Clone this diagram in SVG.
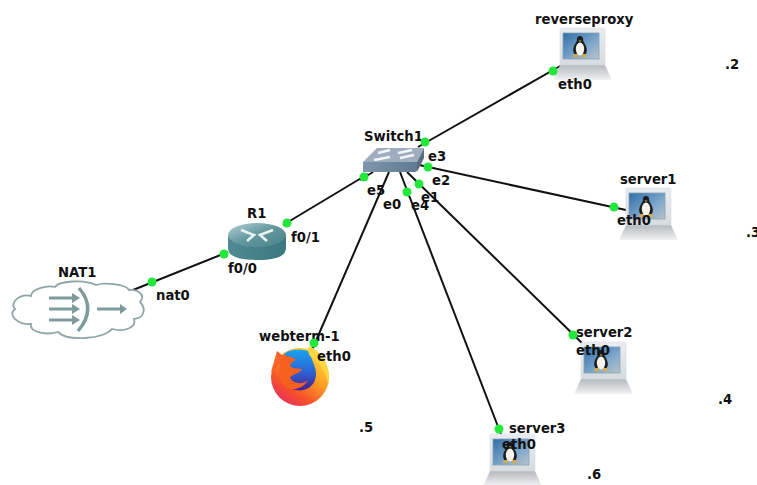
<svg xmlns="http://www.w3.org/2000/svg" width="757" height="485" viewBox="0 0 757 485">
<style>
text{font-family:"DejaVu Sans","Liberation Sans",sans-serif;font-weight:bold;font-size:13.2px;fill:#111}
.l{stroke:#111;stroke-width:2;fill:none}
.d{fill:#22e83a}
.cl{fill:#fff;stroke:#8fa6a8;stroke-width:1.8}
.ar{stroke:#7d9a9d;stroke-width:3.2;fill:none}
.ah{fill:#7d9a9d}
</style>
<defs>
<linearGradient id="scr" x1="0" y1="0" x2="1" y2="1"><stop offset="0" stop-color="#2f6ea8"/><stop offset=".6" stop-color="#7fa8cc"/><stop offset="1" stop-color="#b9c4cc"/></linearGradient>
<linearGradient id="lid" x1="0" y1="0" x2="0" y2="1"><stop offset="0" stop-color="#e9edf1"/><stop offset="1" stop-color="#d6dbe0"/></linearGradient>
<linearGradient id="base" x1="0" y1="0" x2="0" y2="1"><stop offset="0" stop-color="#b4b9bd"/><stop offset="1" stop-color="#f0f2f3"/></linearGradient>
<linearGradient id="rt" x1="0" y1="0" x2="1" y2="0"><stop offset="0" stop-color="#4f8a92"/><stop offset="1" stop-color="#3c7880"/></linearGradient>
<linearGradient id="rtop" x1="0" y1="0" x2="1" y2="1"><stop offset="0" stop-color="#b6d2d4"/><stop offset=".5" stop-color="#62979e"/><stop offset="1" stop-color="#4a8188"/></linearGradient>
<linearGradient id="sw" x1="0" y1="0" x2="1" y2="0"><stop offset="0" stop-color="#7e97ad"/><stop offset="1" stop-color="#5f7a92"/></linearGradient>
<linearGradient id="ffo" x1=".85" y1=".05" x2=".2" y2=".95"><stop offset="0" stop-color="#ffdc3c"/><stop offset=".4" stop-color="#ffa224"/><stop offset=".75" stop-color="#f6502a"/><stop offset="1" stop-color="#e8305a"/></linearGradient>
<linearGradient id="ffb" x1=".5" y1="0" x2=".5" y2="1"><stop offset="0" stop-color="#18a4f0"/><stop offset=".55" stop-color="#2c62d6"/><stop offset="1" stop-color="#4a1f8e"/></linearGradient>
<g id="laptop">
<path d="M0 37H45L51 50Q52 52 49 52H-4Q-7 52-6 50Z" fill="url(#base)"/>
<path d="M2 0H43Q45 0 45 2V37H0V2Q0 0 2 0Z" fill="url(#lid)" stroke="#d8dce0" stroke-width=".6"/>
<rect x="3" y="5" width="36" height="26" fill="url(#scr)" stroke="#8aa0b2" stroke-width=".8"/>
<path d="M20 8c-2.400 0-3.300 2-3.100 4 .1 2-3.400 5-3.700 9.500-.1 2 .4 3.500 1.300 4.500h11c.9-1 1.400-2.500 1.300-4.500-.3-4.500-3.800-7.500-3.700-9.500.2-2-.7-4-3.100-4z" fill="#1a1d22"/>
<ellipse cx="20" cy="21" rx="4.200" ry="6.500" fill="#f6f3ea"/>
<path d="M12 28.500l4.500-3 2 3.500zM28 28.500l-4.500-3-2 3.500z" fill="#eda92a"/>
<path d="M18.500 12.500h3l-1.500 1.500z" fill="#eda92a"/>
</g>
</defs>
<g id="connectors">
<path class="l" d="M133 290L228 252"/>
<path class="l" d="M283 225L368 174"/>
<path class="l" d="M418 147L562 65"/>
<path class="l" d="M418 164.800L626 210"/>
<path class="l" d="M407 172L582 343"/>
<path class="l" d="M400 172L502 437"/>
<path class="l" d="M389 172L312 350"/>
<path class="l" d="M373 172L360 180"/>
</g>
<g id="NAT1">
<path class="cl" d="M55 287C58 281 84 279 96 285C103 282 126 284 129 290C138 289 146 295 140 302C146 308 145 318 134 319C137 328 124 332 112 329C103 339 68 342 58 332C44 336 29 331 31 324C18 325 7 315 15 309C9 303 20 293 31 296C31 289 47 285 55 287Z"/>
<g><path class="ar" d="M49 298H73M49 309H73M49 320H73M97 309H121"/>
<path class="ah" d="M72 293L80 298L72 303ZM72 304L80 309L72 314ZM72 315L80 320L72 325ZM120 304L127 309L120 314Z"/>
<path d="M79 288Q97 309 78 331" fill="none" stroke="#7d9a9d" stroke-width="3.400"/></g>
<text x="58" y="277">NAT1</text>
<text x="156" y="300">nat0</text>
</g>
<g id="R1">
<path d="M228 236V248Q228 260 257 260Q286 260 286 248V236Z" fill="url(#rt)"/>
<ellipse cx="257" cy="235" rx="29" ry="12" fill="url(#rtop)"/>
<path d="M241 230L254 235L247 241M273 230L260 235L267 241" fill="none" stroke="#e9f2f2" stroke-width="2.600"/>
<text x="247" y="218">R1</text>
<text x="291" y="242">f0/1</text>
<text x="228" y="273">f0/0</text>
</g>
<g id="Switch1">
<path d="M363 162H417V170Q417 172 415 172H363Z" fill="url(#sw)"/>
<path d="M363 162L377 148H424L417 162Z" fill="#9fadbe"/>
<path d="M417 162L424 148V158L417 172Z" fill="#566d82"/>
<path d="M378 153L390 150M412 150L398 153M400 158L414 155M374 160L390 157" stroke="#f2f6f8" stroke-width="2.600" fill="none"/>
<text x="364" y="141">Switch1</text>
<text x="428" y="161">e3</text>
<text x="432" y="185">e2</text>
<text x="421" y="202">e1</text>
<text x="411" y="210">e4</text>
<text x="383" y="209">e0</text>
<text x="367" y="195">e5</text>
</g>
<g id="reverseproxy">
<use href="#laptop" x="560" y="28"/>
<text x="535" y="24">reverseproxy</text>
<text x="558" y="89">eth0</text>
</g>
<g id="server1">
<use href="#laptop" x="626" y="188"/>
<text x="620" y="184">server1</text>
<text x="617" y="225">eth0</text>
</g>
<g id="server2">
<use href="#laptop" x="581" y="342"/>
<text x="576" y="337">server2</text>
<text x="576" y="355">eth0</text>
</g>
<g id="server3">
<use href="#laptop" x="490" y="434"/>
<text x="509" y="433">server3</text>
<text x="502" y="449">eth0</text>
</g>
<g id="webterm-1">
<circle cx="300" cy="377" r="29" fill="url(#ffo)"/>
<path d="M277 351L271 372L286 358Z" fill="#f9642a"/>
<path d="M284 354C292 348 304 349 310 352C311 360 316 366 316 374C316 386 306 392 296 390C286 389 281 381 283 374Z" fill="url(#ffb)"/>
<path d="M284 354C287 357 292 356 296 360C292 362 289 364 291 367C295 370 300 367 302 370C298 374 292 374 290 378C294 384 302 385 308 380C304 388 294 391 287 388C278 382 276 368 284 354Z" fill="#f7601f"/>
<path d="M309 346C323 352 332 368 328 384C326 370 318 362 310 356C308 353 308 350 309 346Z" fill="#ffd640"/>
<text x="259" y="341">webterm-1</text>
<text x="317" y="361">eth0</text>
</g>
<g id="endpoints">
<circle class="d" cx="152" cy="282" r="4.500"/>
<circle class="d" cx="224" cy="254" r="4.500"/>
<circle class="d" cx="287" cy="223" r="4.500"/>
<circle class="d" cx="364" cy="177" r="4.500"/>
<circle class="d" cx="425" cy="142" r="4.500"/>
<circle class="d" cx="428" cy="167" r="4.500"/>
<circle class="d" cx="419" cy="184" r="4.500"/>
<circle class="d" cx="407" cy="192" r="4.500"/>
<circle class="d" cx="553" cy="71" r="4.500"/>
<circle class="d" cx="614" cy="207" r="4.500"/>
<circle class="d" cx="573" cy="335" r="4.500"/>
<circle class="d" cx="499" cy="429" r="4.500"/>
<circle class="d" cx="314" cy="343" r="4.500"/>
</g>
<g id="subnet-labels">
<text x="725" y="69">.2</text>
<text x="746" y="237">.3</text>
<text x="718" y="404">.4</text>
<text x="359" y="432">.5</text>
<text x="587" y="479">.6</text>
</g>
</svg>
